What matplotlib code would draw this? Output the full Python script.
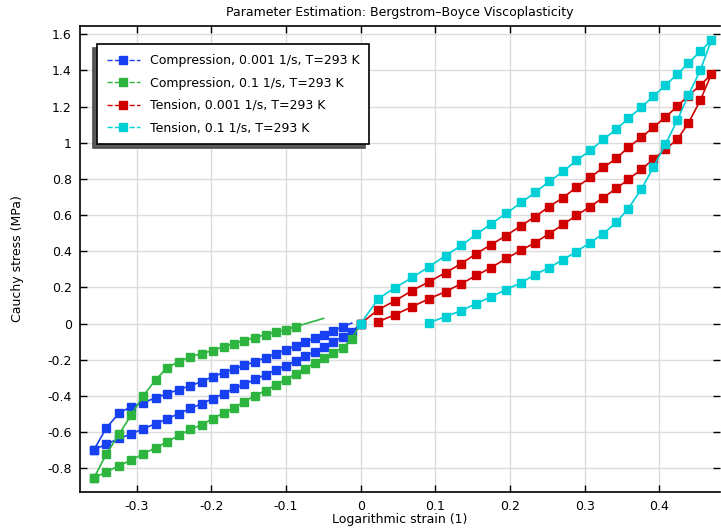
import matplotlib
matplotlib.use('Agg')
import matplotlib.pyplot as plt
from matplotlib.lines import Line2D

# strain grids
strain_comp = [-0.357, -0.3405, -0.3231, -0.3071, -0.291, -0.2744, -0.2589, -0.2437,
               -0.2281, -0.2129, -0.1982, -0.1834, -0.1697, -0.1559, -0.1419, -0.1272,
               -0.1134, -0.1, -0.0871, -0.0746, -0.0612, -0.0496, -0.0367, -0.0241,
               -0.012, 0.0]
strain_tens = [0.0, 0.0236, 0.0463, 0.069, 0.0918, 0.1138, 0.1347, 0.1548, 0.1748,
               0.1949, 0.215, 0.2337, 0.2525, 0.2712, 0.2886, 0.3074, 0.3248, 0.3422,
               0.3582, 0.3756, 0.3917, 0.4078, 0.4238, 0.4386, 0.4546, 0.4694]

# Compression, 0.001 1/s
comp_slow_load = [-0.697, -0.666, -0.635, -0.609, -0.581, -0.553, -0.526, -0.498,
                  -0.469, -0.443, -0.415, -0.387, -0.358, -0.336, -0.308, -0.282,
                  -0.255, -0.232, -0.205, -0.177, -0.155, -0.127, -0.100, -0.074,
                  -0.046, 0.0]
comp_slow_unload = [-0.697, -0.576, -0.493, -0.459, -0.437, -0.410, -0.387, -0.365,
                    -0.343, -0.321, -0.293, -0.271, -0.249, -0.231, -0.210, -0.188,
                    -0.166, -0.144, -0.122, -0.100, -0.080, -0.061, -0.039, -0.017,
                    0.003]

# Compression, 0.1 1/s
comp_fast_load = [-0.852, -0.819, -0.786, -0.753, -0.720, -0.686, -0.653, -0.618,
                  -0.585, -0.559, -0.526, -0.493, -0.465, -0.432, -0.398, -0.371,
                  -0.337, -0.310, -0.277, -0.249, -0.216, -0.188, -0.160, -0.133,
                  -0.083, 0.0]
comp_fast_unload = [-0.852, -0.720, -0.609, -0.504, -0.398, -0.310, -0.243, -0.210,
                    -0.183, -0.166, -0.149, -0.127, -0.111, -0.094, -0.077, -0.061,
                    -0.046, -0.033, -0.017, 0.029]
comp_fast_unload_strain = strain_comp[:19] + strain_comp[21:22]

# Tension, 0.001 1/s
tens_slow_load = [0.0, 0.0775, 0.127, 0.183, 0.232, 0.282, 0.332, 0.387, 0.437, 0.487,
                  0.542, 0.592, 0.647, 0.697, 0.753, 0.808, 0.863, 0.913, 0.974, 1.029,
                  1.085, 1.140, 1.201, 1.260, 1.317, 1.378]
tens_slow_unload = [0.011, 0.050, 0.094, 0.138, 0.177, 0.221, 0.266, 0.310, 0.360,
                    0.406, 0.448, 0.498, 0.548, 0.598, 0.647, 0.697, 0.747, 0.797,
                    0.852, 0.908, 0.963, 1.018, 1.107, 1.234]

# Tension, 0.1 1/s
tens_fast_load = [0.0, 0.138, 0.199, 0.255, 0.315, 0.376, 0.432, 0.493, 0.553, 0.609,
                  0.670, 0.725, 0.786, 0.841, 0.902, 0.957, 1.018, 1.074, 1.134, 1.195,
                  1.256, 1.317, 1.378, 1.439, 1.505, 1.566]
tens_fast_unload = [0.0055, 0.039, 0.072, 0.111, 0.149, 0.188, 0.227, 0.271, 0.310,
                    0.354, 0.398, 0.448, 0.498, 0.559, 0.636, 0.742, 0.863, 0.991,
                    1.123, 1.262, 1.400]

labels = ['Compression, 0.001 1/s, T=293 K', 'Compression, 0.1 1/s, T=293 K',
          'Tension, 0.001 1/s, T=293 K', 'Tension, 0.1 1/s, T=293 K']
colors = ['#1740f2', '#2db540', '#d00000', '#00cfd6']

plt.rcParams['font.family'] = 'DejaVu Sans'
plt.rcParams['font.size'] = 9
plt.rcParams['axes.unicode_minus'] = False


def loop(load_x, load_y, unload_x, unload_y):
    # compression: loading goes out from the origin, unloading comes back
    x = list(reversed(load_x)) + list(unload_x)
    y = list(reversed(load_y)) + list(unload_y)
    return x, y


def loop_t(load_x, load_y, unload_x, unload_y):
    x = list(load_x) + list(reversed(unload_x))
    y = list(load_y) + list(reversed(unload_y))
    return x, y


# last value: how many trailing points have no marker
paths = [
    loop(strain_comp, comp_slow_load, strain_comp[:25], comp_slow_unload) + (1,),
    loop(strain_comp, comp_fast_load, comp_fast_unload_strain, comp_fast_unload) + (1,),
    loop_t(strain_tens, tens_slow_load, strain_tens[1:25], tens_slow_unload) + (0,),
    loop_t(strain_tens, tens_fast_load, strain_tens[4:25], tens_fast_unload) + (0,),
]

fig = plt.figure(figsize=(7.21, 5.29), dpi=100)
ax = fig.add_axes([80 / 721, 37.5 / 529, 640 / 721, 465.5 / 529])

for (x, y, n_plain), c in zip(paths, colors):
    ax.plot(x, y, color=c, lw=1.2, marker='s', ms=5.7, mec=c, mfc=c,
            markevery=list(range(len(x) - n_plain)))

ax.set_xlim(-0.3758, 0.481)
ax.set_ylim(-0.928, 1.645)
ax.set_xticks([-0.3, -0.2, -0.1, 0, 0.1, 0.2, 0.3, 0.4])
ax.set_yticks([-0.8, -0.6, -0.4, -0.2, 0, 0.2, 0.4, 0.6, 0.8, 1, 1.2, 1.4, 1.6])
ax.set_xticklabels(['-0.3', '-0.2', '-0.1', '0', '0.1', '0.2', '0.3', '0.4'])
ax.set_yticklabels(['-0.8', '-0.6', '-0.4', '-0.2', '0', '0.2', '0.4', '0.6', '0.8',
                    '1', '1.2', '1.4', '1.6'])
ax.tick_params(direction='in', length=5, width=1, top=True, right=True, pad=6)
ax.grid(True, color='#dcdcdc', lw=1)
ax.set_axisbelow(True)
for s in ['left', 'bottom', 'top']:
    ax.spines[s].set_linewidth(1.2)
ax.spines['right'].set_visible(False)

ax.set_title('Parameter Estimation: Bergstrom\u2013Boyce Viscoplasticity', fontsize=9, pad=7)
ax.set_xlabel('Logarithmic strain (1)', labelpad=0)
ax.set_ylabel('Cauchy stress (MPa)', labelpad=17)

handles = [Line2D([], [], color=c, ls='--', lw=1, marker='s', ms=5.7, mec=c, mfc=c)
           for c in colors]
leg = ax.legend(handles, labels, loc='upper left', bbox_to_anchor=(0.0266, 0.961),
                borderaxespad=0, fancybox=False, framealpha=1, edgecolor='black',
                labelspacing=0.75, handlelength=2.6, borderpad=0.8,
                shadow={'ox': -3, 'oy': -3, 'facecolor': '#5a5a5a', 'alpha': 1})
leg.get_frame().set_linewidth(1.2)

fig.savefig('out.png', dpi=100)
